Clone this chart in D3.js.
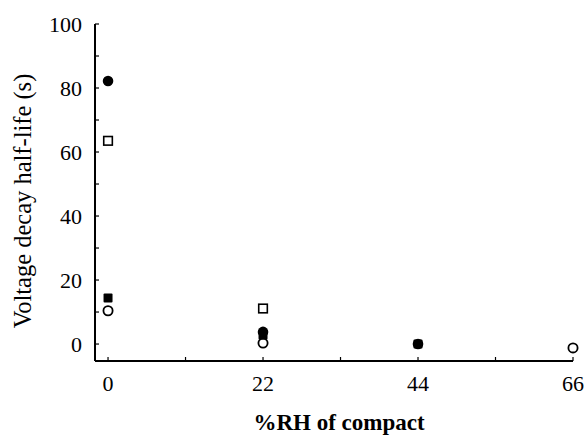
<!DOCTYPE html>
<html><head><meta charset="utf-8">
<script src="https://cdn.jsdelivr.net/npm/d3@7"></script>
<style>body{margin:0;background:#fff}svg{display:block}</style>
</head><body>
<script>
const xTicks = [0, 22, 44, 66];
const yTicks = [0, 20, 40, 60, 80, 100];
const xMinor = [11, 33, 55];
const yMinor = [10, 30, 50, 70, 90];
// series (x = %RH of compact, y = half-life s)
const filledCircle = [[0, 82.2], [22, 3.8], [44, 0]];
const openSquare   = [[0, 63.5], [22, 11.1]];
const filledSquare = [[0, 14.4], [22, 2.8], [44, 0]];
const openCircle   = [[0, 10.4], [22, 0.3], [66, -1.2]];
const xLabel = "%RH of compact";
const yLabel = "Voltage decay half-life (s)";

const W = 587, H = 438;
const svg = d3.select("body").append("svg").attr("width", W).attr("height", H);
const x = d3.scaleLinear().domain([-1.85, 66]).range([95, 573]);
const y = d3.scaleLinear().domain([-5.3, 100]).range([361, 24]);
const font = "'Liberation Serif','Times New Roman',serif";

const g = svg.append("g");
// axes lines
g.append("line").attr("x1", x.range()[0]).attr("x2", x.range()[0]).attr("y1", y(100)).attr("y2", y.range()[0]).attr("stroke", "#000").attr("stroke-width", 2);
g.append("line").attr("x1", x.range()[0]).attr("x2", x(66)).attr("y1", y.range()[0]).attr("y2", y.range()[0]).attr("stroke", "#000").attr("stroke-width", 2);

// y ticks (inward)
g.selectAll(".yt").data(yTicks.concat(yMinor)).join("line")
  .attr("x1", x.range()[0]).attr("x2", x.range()[0] + 4)
  .attr("y1", d => y(d)).attr("y2", d => y(d)).attr("stroke", "#000").attr("stroke-width", 1.2);
g.selectAll(".yl").data(yTicks).join("text")
  .attr("x", 82).attr("y", d => y(d)).attr("dy", "0.35em").attr("text-anchor", "end")
  .attr("font-family", font).attr("font-size", 22).text(d => d);
// x ticks (inward)
g.selectAll(".xt").data(xTicks.concat(xMinor)).join("line")
  .attr("x1", d => x(d)).attr("x2", d => x(d))
  .attr("y1", y.range()[0]).attr("y2", y.range()[0] - 4).attr("stroke", "#000").attr("stroke-width", 1.2);
g.selectAll(".xl").data(xTicks).join("text")
  .attr("x", d => x(d)).attr("y", 391).attr("text-anchor", "middle")
  .attr("font-family", font).attr("font-size", 22).text(d => d);

// titles
svg.append("text").attr("transform", "translate(31,201) rotate(-90)").attr("text-anchor", "middle")
  .attr("font-family", font).attr("font-size", 24.5).text(yLabel);
svg.append("text").attr("x", 339).attr("y", 430).attr("text-anchor", "middle")
  .attr("font-family", font).attr("font-size", 23).attr("font-weight", "bold").text(xLabel);

// markers
const pts = svg.append("g");
pts.selectAll(".oc").data(openCircle).join("circle")
  .attr("cx", d => x(d[0])).attr("cy", d => y(d[1])).attr("r", 4.6)
  .attr("fill", "#fff").attr("stroke", "#000").attr("stroke-width", 1.8);
pts.selectAll(".fs").data(filledSquare).join("rect")
  .attr("x", d => x(d[0]) - 4.5).attr("y", d => y(d[1]) - 4.5).attr("width", 9).attr("height", 9).attr("rx", 1)
  .attr("fill", "#000");
pts.selectAll(".fc").data(filledCircle).join("circle")
  .attr("cx", d => x(d[0])).attr("cy", d => y(d[1])).attr("r", 5.3).attr("fill", "#000");
pts.selectAll(".os").data(openSquare).join("rect")
  .attr("x", d => x(d[0]) - 4.3).attr("y", d => y(d[1]) - 4.3).attr("width", 8.6).attr("height", 8.6)
  .attr("fill", "#fff").attr("stroke", "#000").attr("stroke-width", 1.6);
</script>
</body></html>
